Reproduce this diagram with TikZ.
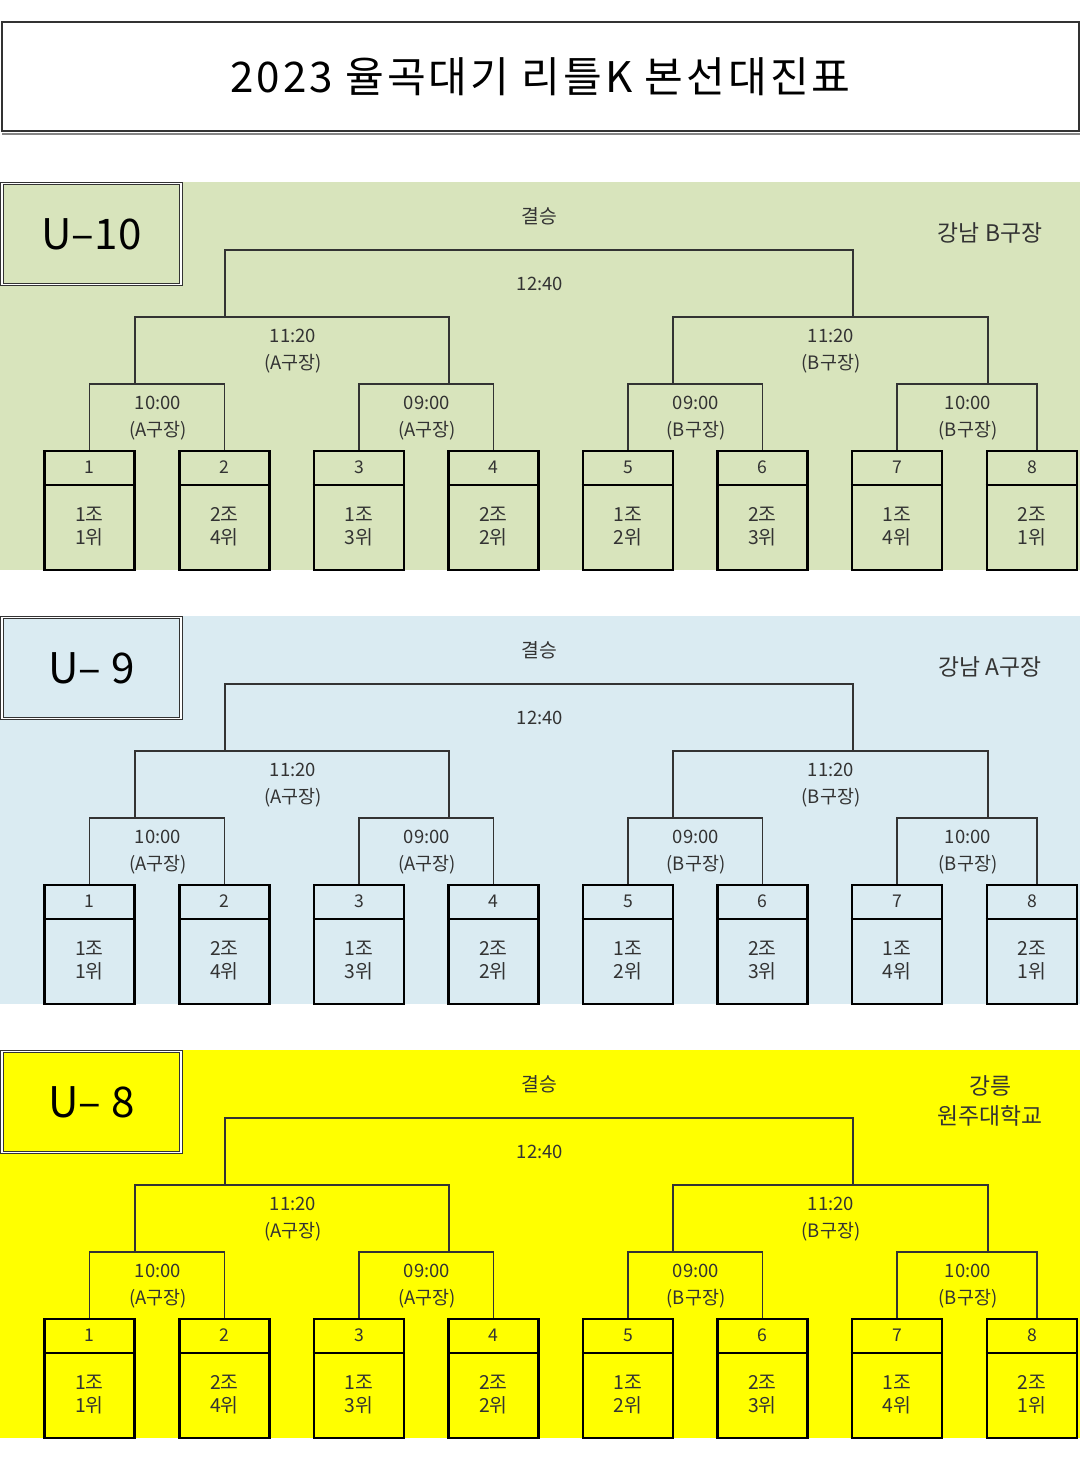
\documentclass[tikz,border=0pt]{standalone}
\usepackage{fontspec}
\setmainfont{Noto Sans CJK KR}
\newfontfamily\titlefont[LetterSpace=7]{Noto Sans CJK KR}
\usetikzlibrary{positioning,calc}

\definecolor{bandgreen}{HTML}{D8E4BC}
\definecolor{bandblue}{HTML}{DAEBF2}
\definecolor{bandyellow}{HTML}{FFFF00}
\definecolor{inkgray}{HTML}{333333}

\tikzset{
  team/.style={draw=black, line width=1.5pt, minimum width=1.8cm, minimum height=2.38cm, inner sep=0pt},
  seednum/.style={font=\fontsize{10}{12}\selectfont, text=inkgray},
  slot/.style={font=\fontsize{11}{13}\selectfont, align=center, text=inkgray},
  bracket/.style={draw=inkgray, line width=0.9pt},
  timelbl/.style={font=\fontsize{10.5}{15.2}\selectfont, align=center, text=inkgray},
  agebox/.style={draw=inkgray, double=white, double distance=0.7pt, line width=0.6pt,
    minimum width=3.58cm, minimum height=2.02cm, font=\fontsize{24}{27}\selectfont},
  venue/.style={font=\fontsize{13}{17}\selectfont, align=center, text=inkgray}
}

\begin{document}
\begin{tikzpicture}[x=0.02cm, y=-0.02cm]
  \useasboundingbox[fill=white] (0,0) rectangle (1080,1483);

  % title
  \node[draw=inkgray, line width=1pt, minimum width=21.54cm, minimum height=2.18cm,
    font=\titlefont\fontsize{24}{27}\selectfont] (title) at (540.5,76.5) {2023 율곡대기 리틀K 본선대진표};
  \draw[inkgray!60, line width=0.8pt] (2,134) -- (1080,134);

  \foreach \s/\off/\col/\lab/\where in {a/0/bandgreen/{U–10}/{강남 B구장},
      b/434/bandblue/{U– 9}/{강남 A구장}, c/868/bandyellow/{U– 8}/{강릉\\원주대학교}} {
    \begin{scope}[shift={(0,\off)}]
      \fill[\col] (0,182) rectangle (1080,570);
      \node[agebox, fill=\col] (u\s) at (91.5,234) {\lab};
      \node[venue] (v\s) at (990,233) {\where};

      % teams
      \foreach \i/\x/\grp/\rank in {1/89.5/1/1, 2/224.5/2/4, 3/359/1/3, 4/493.5/2/2,
          5/628/1/2, 6/762.5/2/3, 7/897/1/4, 8/1032/2/1} {
        \node[team] (t\s\i) at (\x,510.5) {};
        \draw[line width=1pt] ([yshift=-0.7cm]t\s\i.north west) -- ([yshift=-0.7cm]t\s\i.north east);
        \node[seednum] (n\s\i) at ([yshift=-0.35cm]t\s\i.north) {\i};
        \node[slot] (g\s\i) at ([yshift=-1.53cm]t\s\i.north) {{\grp}조\\{\rank}위};
      }

      % bracket joints
      \coordinate (q\s1) at (135,384);
      \coordinate (q\s2) at (449,384);
      \coordinate (q\s3) at (673,384);
      \coordinate (q\s4) at (988,384);
      \coordinate (s\s1) at (225,317);
      \coordinate (s\s2) at (853,317);
      \coordinate (f\s) at (540,250);

      \draw[bracket] (t\s1.north) |- (q\s1) -| (t\s2.north);
      \draw[bracket] (t\s3.north) |- (q\s2) -| (t\s4.north);
      \draw[bracket] (t\s5.north) |- (q\s3) -| (t\s6.north);
      \draw[bracket] (t\s7.north) |- (q\s4) -| ([xshift=0.1cm]t\s8.north);
      \draw[bracket] (q\s1) |- (s\s1) -| (q\s2);
      \draw[bracket] (q\s3) |- (s\s2) -| (q\s4);
      \draw[bracket] (s\s1) |- (f\s) -| (s\s2);

      % times
      \node[timelbl] (m\s1) at (158,418) {10:00\\(A구장)};
      \node[timelbl] (m\s2) at (427,418) {09:00\\(A구장)};
      \node[timelbl] (m\s3) at (696,418) {09:00\\(B구장)};
      \node[timelbl] (m\s4) at (968,418) {10:00\\(B구장)};
      \node[timelbl] (h\s1) at (293,351) {11:20\\(A구장)};
      \node[timelbl] (h\s2) at (831,351) {11:20\\(B구장)};
      \node[timelbl] (k\s) at (540,284) {12:40};
      \node[timelbl, font=\fontsize{11}{13}\selectfont] (w\s) at (539,216) {결승};
    \end{scope}
  }
\end{tikzpicture}
\end{document}
